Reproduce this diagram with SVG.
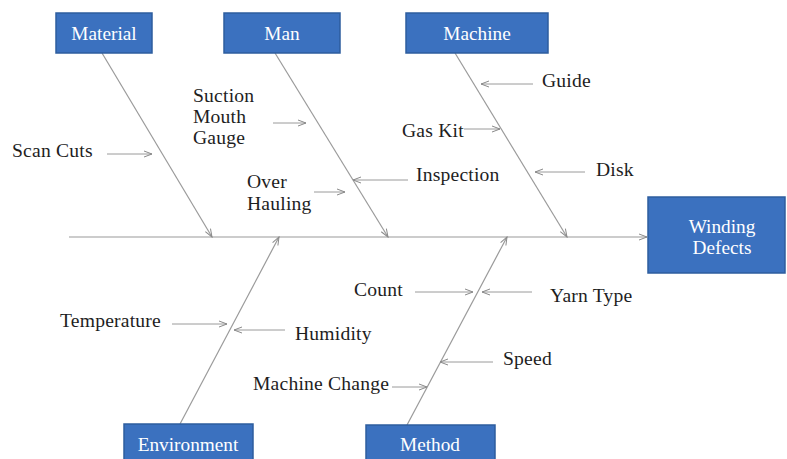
<svg xmlns="http://www.w3.org/2000/svg" width="787" height="459" viewBox="0 0 787 459">
  <defs>
    <marker id="arr" viewBox="0 0 10 8" refX="9" refY="4" markerWidth="10" markerHeight="8" markerUnits="userSpaceOnUse" orient="auto">
      <path d="M1,1 L9,4 L1,7" fill="none" stroke="#8a8a8a" stroke-width="1"/>
    </marker>
  </defs>
  <style>
    .box { fill: #3b71bf; stroke: #2e5d9e; stroke-width: 1.5; }
    .lbl { font-family: "Liberation Serif", "Times New Roman", serif; font-size: 19.3px; fill: #ffffff; text-anchor: middle; }
    .txt { font-family: "Liberation Serif", "Times New Roman", serif; font-size: 19.6px; letter-spacing: 0.2px; fill: #1e1e1e; }
    .bone { stroke: #9a9a9a; stroke-width: 1.2; fill: none; marker-end: url(#arr); }
    .sub { stroke: #9a9a9a; stroke-width: 1; fill: none; marker-end: url(#arr); }
  </style>
  <rect width="787" height="459" fill="#ffffff"/>

  <!-- spine and bones -->
  <g id="connectors">
    <line class="bone" x1="69" y1="237" x2="647" y2="237" stroke-width="1.5"/>
    <line class="bone" x1="102" y1="53" x2="212" y2="237"/>
    <line class="bone" x1="275" y1="53" x2="388" y2="237"/>
    <line class="bone" x1="455" y1="53" x2="567" y2="237"/>
    <line class="bone" x1="180" y1="424" x2="279" y2="237"/>
    <line class="bone" x1="407" y1="425" x2="507" y2="237"/>

    <line class="sub" x1="107" y1="154" x2="152" y2="154"/>
    <line class="sub" x1="273" y1="123" x2="306" y2="123"/>
    <line class="sub" x1="314" y1="192" x2="345" y2="192"/>
    <line class="sub" x1="408" y1="180" x2="353" y2="180"/>
    <line class="sub" x1="533" y1="84" x2="481" y2="84"/>
    <line class="sub" x1="464" y1="129" x2="500" y2="129"/>
    <line class="sub" x1="585" y1="172" x2="535" y2="172"/>
    <line class="sub" x1="172" y1="324" x2="227" y2="324"/>
    <line class="sub" x1="285" y1="330" x2="234" y2="330"/>
    <line class="sub" x1="415" y1="292" x2="473" y2="292"/>
    <line class="sub" x1="532" y1="292" x2="482" y2="292"/>
    <line class="sub" x1="493" y1="362" x2="440" y2="362"/>
    <line class="sub" x1="392" y1="387" x2="427" y2="387"/>
  </g>

  <!-- category boxes -->
  <g id="material">
    <rect class="box" x="56" y="13" width="96" height="40"/>
    <text class="lbl" x="104" y="40">Material</text>
  </g>
  <g id="man">
    <rect class="box" x="224" y="13" width="116" height="40"/>
    <text class="lbl" x="282" y="40">Man</text>
  </g>
  <g id="machine">
    <rect class="box" x="406" y="13" width="142" height="40"/>
    <text class="lbl" x="477" y="40">Machine</text>
  </g>
  <g id="winding-defects">
    <rect class="box" x="648" y="197" width="137" height="76"/>
    <text class="lbl" x="722" y="233">Winding</text>
    <text class="lbl" x="722" y="254">Defects</text>
  </g>
  <g id="environment">
    <rect class="box" x="124" y="424" width="129" height="40"/>
    <text class="lbl" x="188" y="451">Environment</text>
  </g>
  <g id="method">
    <rect class="box" x="366" y="425" width="129" height="40"/>
    <text class="lbl" x="430" y="451">Method</text>
  </g>

  <!-- causes -->
  <g id="causes">
    <text class="txt" x="12" y="157">Scan Cuts</text>
    <text class="txt" x="193" y="102">Suction</text>
    <text class="txt" x="193" y="123">Mouth</text>
    <text class="txt" x="193" y="144">Gauge</text>
    <text class="txt" x="247" y="188">Over</text>
    <text class="txt" x="247" y="210">Hauling</text>
    <text class="txt" x="416" y="181">Inspection</text>
    <text class="txt" x="542" y="87">Guide</text>
    <text class="txt" x="402" y="137">Gas Kit</text>
    <text class="txt" x="596" y="176">Disk</text>
    <text class="txt" x="60" y="327">Temperature</text>
    <text class="txt" x="295" y="340">Humidity</text>
    <text class="txt" x="354" y="296">Count</text>
    <text class="txt" x="550" y="302">Yarn Type</text>
    <text class="txt" x="503" y="365">Speed</text>
    <text class="txt" x="253" y="390">Machine Change</text>
  </g>
</svg>
